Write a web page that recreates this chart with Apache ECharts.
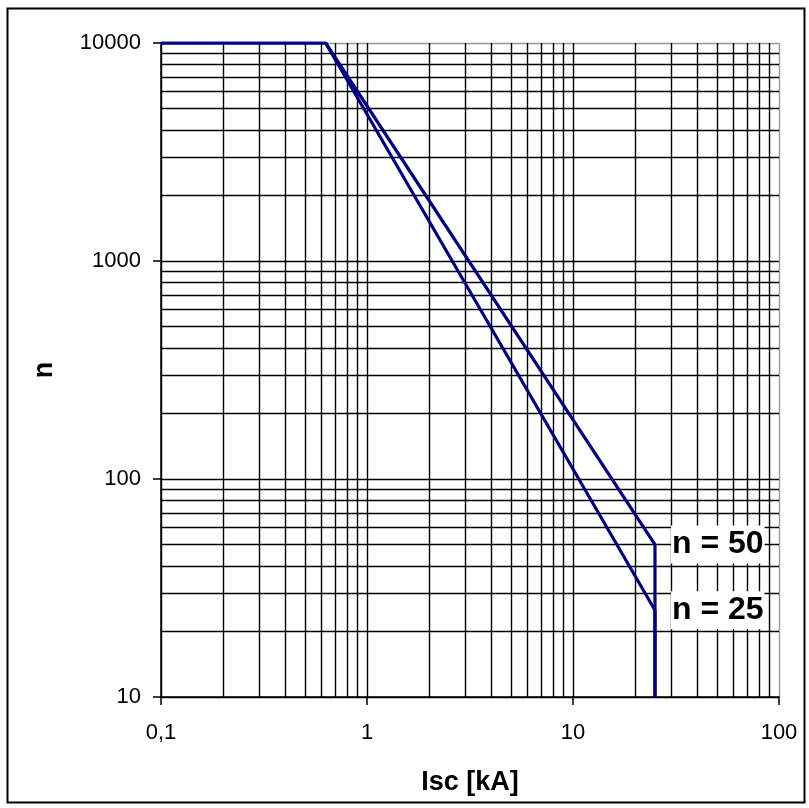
<!DOCTYPE html>
<html>
<head>
<meta charset="utf-8">
<script src="https://cdn.jsdelivr.net/npm/echarts@6/dist/echarts.min.js"></script>
<style>html,body{margin:0;padding:0;background:#fff;}#c{width:809px;height:808px;}</style>
</head>
<body>
<div id="c"></div>
<script>
// ---- data ----
const seriesNames = ['n = 50', 'n = 25'];
const n50X = [0.1, 0.63, 25, 25];
const n50Y = [10000, 10000, 50, 10];
const n25X = [0.1, 0.63, 25, 25];
const n25Y = [10000, 10000, 25, 10];
const labelIndex = 2;
const xTickValues = [0.1, 1, 10, 100];
const xTickLabels = ['0,1', '1', '10', '100'];
const yTickValues = [10, 100, 1000, 10000];
const yTickLabels = ['10', '100', '1000', '10000'];
const minorSteps = [2, 3, 4, 5, 6, 7, 8, 9];
const xTitle = 'Isc [kA]';
const yTitle = 'n';

const FONT = 'Liberation Sans, Arial, sans-serif';
const NAVY = '#000080';

function tickLabel(values, labels) {
  return function (v) {
    for (let i = 0; i < values.length; i++) {
      if (Math.abs(Math.log10(v) - Math.log10(values[i])) < 1e-6) return labels[i];
    }
    return '';
  };
}

const minorLines = [];
xTickValues.slice(0, -1).forEach(function (d) {
  minorSteps.forEach(function (m) { minorLines.push({ xAxis: d * m }); });
});
yTickValues.slice(0, -1).forEach(function (d) {
  minorSteps.forEach(function (m) { minorLines.push({ yAxis: d * m }); });
});

function makeSeries(name, xs, ys) {
  const data = xs.map(function (x, i) {
    return { value: [x, ys[i]], label: { show: false } };
  });
  data[labelIndex].label = {
    show: true,
    position: 'right',
    distance: 16,
    formatter: name,
    fontFamily: FONT,
    fontWeight: 'bold',
    fontSize: 32,
    color: '#000',
    backgroundColor: '#fff',
    padding: [2, 1, 2, 1],
    lineHeight: 34
  };
  return {
    name: name,
    type: 'line',
    data: data,
    showSymbol: true,
    showAllSymbol: true,
    symbol: 'circle',
    symbolSize: 0,
    z: 5,
    lineStyle: { color: NAVY, width: 3.2 },
    itemStyle: { color: NAVY },
    emphasis: { disabled: true }
  };
}

const chart = echarts.init(document.getElementById('c'), null, { renderer: 'canvas' });
chart.setOption({
  animation: false,
  backgroundColor: '#fff',
  graphic: [{
    type: 'rect',
    shape: { x: 7.5, y: 8.5, width: 797, height: 794 },
    style: { fill: 'none', stroke: '#000', lineWidth: 2 },
    silent: true,
    z: 0
  }],
  grid: { left: 161, top: 43, right: 30, bottom: 111, containLabel: false },
  xAxis: {
    type: 'log', logBase: 10, min: 0.1, max: 100,
    name: xTitle, nameLocation: 'middle', nameGap: 72,
    nameTextStyle: { fontFamily: FONT, fontWeight: 'bold', fontSize: 27, color: '#000' },
    axisLine: { show: true, lineStyle: { color: '#000', width: 1.5 } },
    axisTick: { show: true, length: 8, inside: false, lineStyle: { color: '#000', width: 1.5 } },
    axisLabel: { fontFamily: FONT, fontSize: 22, color: '#000', margin: 25, formatter: tickLabel(xTickValues, xTickLabels) },
    splitLine: { show: true, lineStyle: { color: ['#000', '#000', '#000', '#999'], width: 1.4 } }
  },
  yAxis: {
    type: 'log', logBase: 10, min: 10, max: 10000,
    name: yTitle, nameLocation: 'middle', nameGap: 103, nameRotate: 90,
    nameTextStyle: { fontFamily: FONT, fontWeight: 'bold', fontSize: 27, color: '#000' },
    axisLine: { show: true, lineStyle: { color: '#000', width: 1.5 } },
    axisTick: { show: true, length: 8, inside: false, lineStyle: { color: '#000', width: 1.5 } },
    axisLabel: { fontFamily: FONT, fontSize: 22, color: '#000', margin: 20, formatter: tickLabel(yTickValues, yTickLabels) },
    splitLine: { show: true, lineStyle: { color: ['#000', '#000', '#000', '#999'], width: 1.4 } }
  },
  series: [
    {
      name: 'grid-minor',
      type: 'line',
      data: [],
      z: 1,
      silent: true,
      markLine: {
        silent: true,
        symbol: ['none', 'none'],
        label: { show: false },
        lineStyle: { color: '#000', width: 1.4, type: 'solid' },
        emphasis: { disabled: true },
        animation: false,
        data: minorLines
      }
    },
    makeSeries(seriesNames[0], n50X, n50Y),
    makeSeries(seriesNames[1], n25X, n25Y)
  ]
});
</script>
</body>
</html>
